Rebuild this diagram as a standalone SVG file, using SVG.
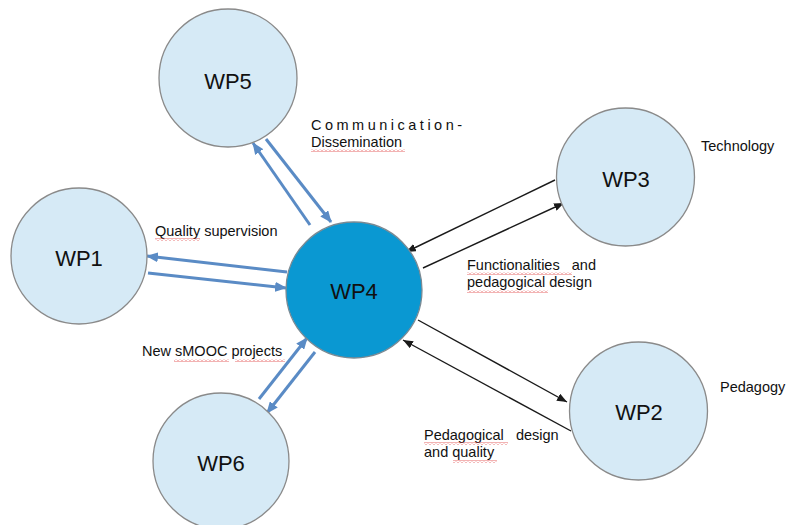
<svg xmlns="http://www.w3.org/2000/svg" width="789" height="525" viewBox="0 0 789 525">
<style>
.wp{fill:#d6eaf6;stroke:#8a8a8a;stroke-width:1.3}
.hub{fill:#0a98d2;stroke:#7a8a94;stroke-width:1.3}
.nt{font-family:"Liberation Sans",Arial,sans-serif;font-size:22px;fill:#111;text-anchor:middle}
.lb{font-family:"Liberation Sans",Arial,sans-serif;font-size:14.5px;fill:#111}
.bl{stroke:#5a8bc5;stroke-width:3;fill:none;marker-end:url(#ab)}
.bk{stroke:#1a1a1a;stroke-width:1.4;fill:none;marker-end:url(#ak)}
.sq{fill:url(#zz)}
</style>
<defs>
<marker id="ab" markerUnits="userSpaceOnUse" markerWidth="12" markerHeight="10" refX="11" refY="5" orient="auto"><path d="M0,0 L12,5 L0,10 z" fill="#5a8bc5"/></marker>
<marker id="ak" markerUnits="userSpaceOnUse" markerWidth="10" markerHeight="8" refX="10" refY="4" orient="auto"><path d="M0,0 L10,4 L0,8 z" fill="#1a1a1a"/></marker>
<pattern id="zz" patternUnits="userSpaceOnUse" width="4" height="3"><polyline points="0,2.5 2,0.5 4,2.5" fill="none" stroke="#e04040" stroke-width="0.8"/></pattern>
</defs>
<g id="connectors">
<line class="bl" x1="310" y1="225" x2="253" y2="143"/>
<line class="bl" x1="266" y1="139" x2="331" y2="222"/>
<line class="bl" x1="287" y1="272" x2="147" y2="256"/>
<line class="bl" x1="148" y1="273" x2="286" y2="288"/>
<line class="bl" x1="259" y1="399" x2="307" y2="338"/>
<line class="bl" x1="315" y1="352" x2="267" y2="413"/>
<line class="bk" x1="555" y1="180" x2="406" y2="252"/>
<line class="bk" x1="423" y1="268" x2="564" y2="203"/>
<line class="bk" x1="418" y1="320" x2="567" y2="402"/>
<line class="bk" x1="571" y1="431" x2="403" y2="340"/>
</g>
<g id="WP5"><circle class="wp" cx="228" cy="78" r="69"/><text class="nt" x="228" y="89">WP5</text></g>
<g id="WP1"><circle class="wp" cx="79" cy="256" r="68"/><text class="nt" x="79" y="266">WP1</text></g>
<g id="WP6"><circle class="wp" cx="221" cy="461" r="68"/><text class="nt" x="221" y="471">WP6</text></g>
<g id="WP3"><circle class="wp" cx="625.5" cy="177" r="69"/><text class="nt" x="626" y="187">WP3</text></g>
<g id="WP2"><circle class="wp" cx="638.5" cy="411" r="69"/><text class="nt" x="639" y="420">WP2</text></g>
<g id="WP4"><circle class="hub" cx="354" cy="290" r="68"/><text class="nt" x="354" y="299">WP4</text></g>
<g id="labels">
<text class="lb" x="311" y="130" letter-spacing="3.5">Communication-</text>
<text class="lb" x="311" y="147">Dissemination</text>
<text class="lb" x="155" y="236">Quality supervision</text>
<text class="lb" x="142" y="356">New sMOOC projects</text>
<text class="lb" x="701" y="151">Technology</text>
<text class="lb" x="467" y="270" xml:space="preserve">Functionalities   and</text>
<text class="lb" x="467" y="287">pedagogical design</text>
<text class="lb" x="720" y="392">Pedagogy</text>
<text class="lb" x="424" y="440" xml:space="preserve">Pedagogical   design</text>
<text class="lb" x="424" y="457">and quality</text>
</g>
<g id="spellcheck">
<rect class="sq" x="311" y="149" width="94" height="3"/>
<rect class="sq" x="155" y="238" width="45" height="3"/>
<rect class="sq" x="174" y="359" width="55" height="3"/>
<rect class="sq" x="235" y="359" width="50" height="3"/>
<rect class="sq" x="467" y="272" width="105" height="3"/>
<rect class="sq" x="467" y="290" width="81" height="3"/>
<rect class="sq" x="424" y="442" width="84" height="3"/>
<rect class="sq" x="453" y="460" width="44" height="3"/>
</g>
</svg>
